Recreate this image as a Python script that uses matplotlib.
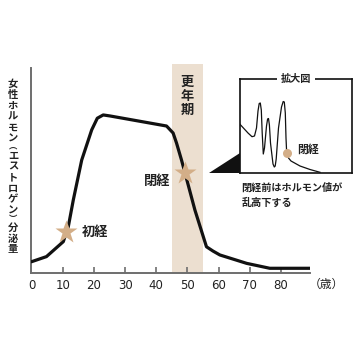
import matplotlib
matplotlib.use("Agg")
import matplotlib.pyplot as plt
from matplotlib.patches import Polygon

plt.rcParams['font.family'] = ['Noto Sans CJK JP', 'DejaVu Sans']

# main curve: age (years) vs relative estrogen level (0-100)
ages = [0, 4.8, 10.2, 11.8, 13.4, 16.1, 19.3, 21.1, 23.0, 25.2, 43.3, 45.4, 46.5,
        48.1, 49.2, 52.4, 56.1, 58.2, 60.4, 69.0, 76.4, 89.3]
level = [5.5, 8.0, 15.3, 22.6, 35.6, 55.1, 69.8, 75.5, 77.1, 76.6, 71.7, 68.3, 63.4,
         55.1, 48.9, 30.7, 12.8, 10.7, 8.8, 4.7, 2.3, 2.3]

# events on the curve
event_ages = [11.1, 49.2]
event_levels = [20.0, 48.9]
event_names = ["初経", "閉経"]

menopause_band = (45, 55)
xtick_vals = [0, 10, 20, 30, 40, 50, 60, 70, 80]

# inset squiggle (enlarged view before menopause), inset coordinates
sq_x = [0, 8, 12, 14.5, 16.5, 18, 19.2, 20.3, 21.3, 22.2, 23.3, 24.5, 26.5, 27.6,
        28.5, 29.4, 30.5, 33, 34.3, 35.2, 36.2, 38.5, 41.5, 43.2, 44.3, 45.3, 46,
        46.7, 48.5, 51, 60, 70, 80]
sq_y = [48.7, 40, 36.3, 37, 45, 62, 69.5, 70, 63, 40, 19, 25, 47, 54, 54.5, 48, 30,
        9, 6, 7, 14, 45, 66, 71.5, 71, 60, 35, 19.7, 15, 12, 7, 3.5, 0.7]
sq_dot = (46.7, 19.7)

ylabel = ["女", "性", "ホ", "ル", "モ", "ン", "︵", "エ", "ス", "ト", "ロ", "ゲ", "ン", "︶",
          "分", "泌", "量"]

W = H = 360
fig = plt.figure(figsize=(3.6, 3.6), dpi=100)

def fx(px):
    return px / W

def fy(py):
    return 1 - py / H

tan = '#d3ae88'
band_col = '#ecdfd0'
txt = '#222222'

ax = fig.add_axes([fx(31.5), fy(273), fx(310) - fx(31.5), fy(68) - fy(273)])
ax.set_xlim(0, 89.3)
ax.set_ylim(0, 100)
ax.axvspan(menopause_band[0], menopause_band[1], ymin=0, ymax=1.02, color=band_col,
           lw=0, zorder=0, clip_on=False)
ax.plot(ages, level, color='#111111', lw=2.3, solid_joinstyle='round',
        solid_capstyle='round', zorder=3)
ax.plot(event_ages, event_levels, ls='none', marker='*', ms=17, color=tan,
        mec='none', zorder=4)

ax.text(event_ages[0] + 5, 20.0, event_names[0], fontsize=9.5, fontweight='bold',
        color=txt, va='center', ha='left')
ax.text(event_ages[1] - 4.7, 45.0, event_names[1], fontsize=9.5, fontweight='bold',
        color=txt, va='center', ha='right')

for s in ['top', 'right']:
    ax.spines[s].set_visible(False)
for s in ['left', 'bottom']:
    ax.spines[s].set_color('#6e6e6e')
    ax.spines[s].set_linewidth(1.4)
ax.set_yticks([])
ax.set_xticks(xtick_vals)
ax.set_xticklabels([str(v) for v in xtick_vals],
                   fontfamily=['Liberation Sans Narrow', 'DejaVu Sans'], fontsize=8.5)
ax.tick_params(axis='x', direction='in', length=4, width=1.2, color='#6e6e6e',
               pad=4, labelcolor=txt)
ax.xaxis.get_major_ticks()[0].tick1line.set_visible(False)

fig.text(fx(326), fy(284), "（歳）", fontsize=8.5, color=txt, ha='center', va='center')

# vertical labels
for i, ch in enumerate("更年期"):
    fig.text(fx(187.5), fy(82 + 14 * i), ch, fontsize=9.5, fontweight='bold',
             color=txt, ha='center', va='center')

ypos = 84
prev_half = 0
for ch in ylabel:
    half = 3.2 if ch in "︵︶" else 5.45
    if prev_half:
        ypos += prev_half + half
    fig.text(fx(13), fy(ypos), ch, fontsize=7.4 if half > 4 else 6.0,
             fontweight='bold', color=txt, ha='center', va='center')
    prev_half = half

# inset box
ins = fig.add_axes([fx(240), fy(173), fx(352) - fx(240), fy(79) - fy(173)])
ins.set_xlim(0, 112)
ins.set_ylim(0, 94)
ins.set_xticks([])
ins.set_yticks([])
for s in ins.spines.values():
    s.set_linewidth(1.2)
    s.set_color('#111111')
ins.plot(sq_x, sq_y, color='#111111', lw=0.9, solid_joinstyle='round')
ins.plot([sq_dot[0]], [sq_dot[1]], 'o', ms=6.5, color=tan, mec='none', zorder=4)
ins.text(57, 24, "閉経", fontsize=7.8, fontweight='bold', color=txt, va='center',
         ha='left')
ins.text(56, 94, "拡大図", fontsize=7.3, fontweight='bold', color=txt, ha='center',
         va='center', bbox=dict(facecolor='white', edgecolor='none', pad=2.5))

wedge = Polygon([(fx(209), fy(173)), (fx(240), fy(153)), (fx(240), fy(173))],
                closed=True, transform=fig.transFigure, facecolor='#111111',
                edgecolor='none')
fig.patches.append(wedge)

fig.text(fx(241.5), fy(188), "閉経前はホルモン値が", fontsize=7.3, fontweight='bold',
         color=txt, ha='left', va='center')
fig.text(fx(241.5), fy(203), "乱高下する", fontsize=7.3, fontweight='bold',
         color=txt, ha='left', va='center')

fig.savefig("out.png", dpi=100, facecolor='white')
